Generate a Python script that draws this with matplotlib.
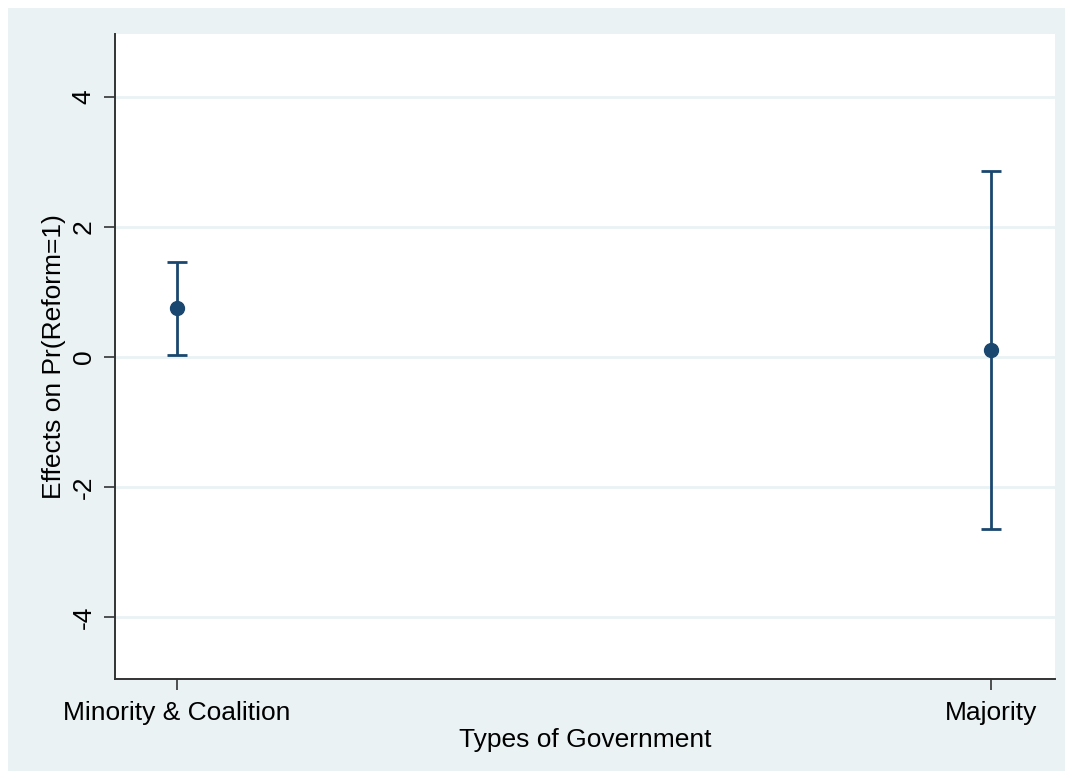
import matplotlib.pyplot as plt
from matplotlib.patches import Rectangle

# data
groups = ["Minority & Coalition", "Majority"]
effect = [0.75, 0.11]
ci_low = [0.03, -2.65]
ci_high = [1.46, 2.86]

navy = "#1a476f"
bg = "#eaf2f3"

plt.rcParams['font.family'] = ['Liberation Sans', 'DejaVu Sans']

fig = plt.figure(figsize=(10.73, 7.79), dpi=100)
fig.patch.set_facecolor("white")
# stata style outer panel
fig.patches.append(Rectangle((8 / 1073, 8 / 779), 1057 / 1073, 763 / 779,
                             transform=fig.transFigure, facecolor=bg,
                             edgecolor="none", zorder=-10))

ax = fig.add_axes([115 / 1073, 1 - 679 / 779, 940 / 1073, 645 / 779])
ax.set_zorder(1)
ax.set_facecolor("white")

x = list(range(len(groups)))
err_lo = [e - l for e, l in zip(effect, ci_low)]
err_hi = [h - e for e, h in zip(effect, ci_high)]
ax.errorbar(x, effect, yerr=[err_lo, err_hi], fmt="o", color=navy,
            ecolor=navy, elinewidth=2, capsize=7, capthick=2,
            markersize=10, zorder=3)

ax.set_xlim(-0.076, 1.079)
ax.set_ylim(-4.95, 4.97)
ax.set_yticks([-4, -2, 0, 2, 4])
ax.set_yticklabels(["-4", "-2", "0", "2", "4"], rotation=90, va="center")
ax.set_xticks(x)
ax.set_xticklabels(groups)

ax.grid(axis="y", color=bg, linewidth=2)
ax.set_axisbelow(True)
for s in ["top", "right"]:
    ax.spines[s].set_visible(False)
for s in ["left", "bottom"]:
    ax.spines[s].set_color("#333333")
    ax.spines[s].set_linewidth(1.4)

ax.tick_params(axis="both", labelsize=19, length=8, width=1.2, color="#333333")
ax.tick_params(axis="y", pad=6)
ax.tick_params(axis="x", pad=8)

ax.set_xlabel("Types of Government", fontsize=19, labelpad=2)
ax.set_ylabel("Effects on Pr(Reform=1)", fontsize=19)
ax.yaxis.set_label_coords(-0.052, 0.5)

fig.savefig("out.png", dpi=100, facecolor=fig.get_facecolor())
